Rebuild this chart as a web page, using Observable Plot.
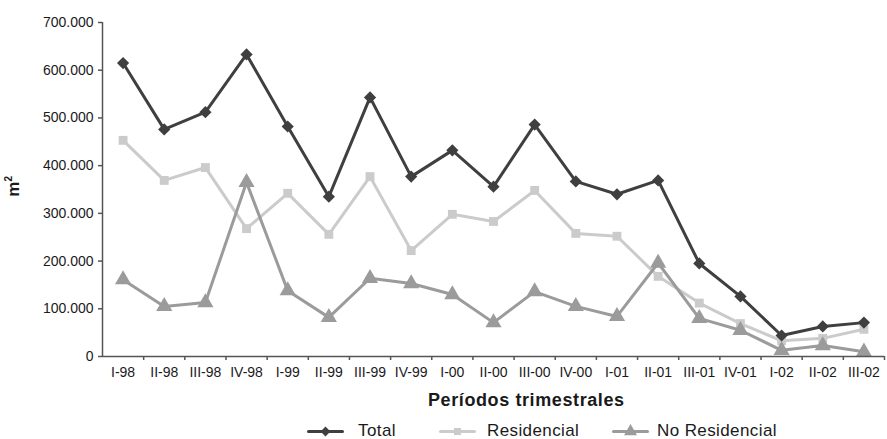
<!DOCTYPE html>
<html><head><meta charset="utf-8">
<script src="https://cdn.jsdelivr.net/npm/d3@7"></script>
<script src="https://cdn.jsdelivr.net/npm/@observablehq/plot@0.6"></script>
<style>
body{margin:0;background:#fff;font-family:"Liberation Sans",Arial,Helvetica,sans-serif;color:#1a1a1a;}
#wrap{position:relative;width:887px;height:439px;overflow:hidden;}
#chart{position:absolute;left:0;top:0;}
#ylab{position:absolute;left:3px;top:176px;transform:rotate(-90deg);transform-origin:center;font-weight:bold;font-size:17px;}
#xtitle{position:absolute;left:428px;top:390px;font-weight:bold;font-size:18px;letter-spacing:0.6px;white-space:nowrap;}
.leg{position:absolute;top:420px;height:22px;display:flex;align-items:center;font-size:17px;letter-spacing:0.4px;white-space:nowrap;}
</style></head>
<body>
<div id="wrap">
<div id="chart"></div>
<div id="ylab">m<sup style="font-size:10px">2</sup></div>
<div id="xtitle">Períodos trimestrales</div>
<div id="legend"></div>
</div>
<script>
const categories = ["I-98","II-98","III-98","IV-98","I-99","II-99","III-99","IV-99","I-00","II-00","III-00","IV-00","I-01","II-01","III-01","IV-01","I-02","II-02","III-02"];
const total = [615000,476000,512000,633000,482000,335000,543000,377000,432000,356000,486000,367000,340000,369000,195000,126000,44000,63000,71000];
const residencial = [453000,369000,396000,268000,342000,256000,377000,222000,298000,283000,348000,258000,252000,168000,112000,69000,33000,38000,57000];
const noResidencial = [161000,105000,113000,365000,138000,82000,164000,153000,130000,71000,136000,105000,84000,196000,80000,55000,13000,23000,10000];
const seriesNames = ["Total","Residencial","No Residencial"];
const yTicks = [0,100000,200000,300000,400000,500000,600000,700000];

const colors = {"Total":"#3f3f3f","Residencial":"#cbcbcb","No Residencial":"#9b9b9b"};
const symbols = {"Total":"diamond2","Residencial":"square","No Residencial":"triangle"};
const radii = {"Total":5.5,"Residencial":5,"No Residencial":6};

const rows = [];
[total, residencial, noResidencial].forEach((arr, s) => {
  arr.forEach((v, i) => rows.push({serie: seriesNames[s], idx: i, value: v}));
});
const fmt = d3.formatLocale({decimal:",", thousands:".", grouping:[3], currency:["",""]}).format(",d");

const drawOrder = ["Residencial","No Residencial","Total"];
const marks = [];
for (const s of drawOrder) {
  const data = rows.filter(r => r.serie === s);
  marks.push(Plot.line(data, {x: d => d.idx + 0.5, y: "value", stroke: colors[s], strokeWidth: 3}));
  marks.push(Plot.dot(data, {x: d => d.idx + 0.5, y: "value", fill: colors[s], stroke: null, symbol: symbols[s], r: radii[s]}));
}

const chart = Plot.plot({
  width: 887,
  height: 386,
  marginLeft: 102,
  marginRight: 3,
  marginTop: 22,
  marginBottom: 30,
  style: {fontFamily: '"Liberation Sans", Arial, sans-serif', fontSize: "14px", color: "#1a1a1a", background: "#fff"},
  x: {type: "linear", domain: [0, categories.length]},
  y: {domain: [0, 700000]},
  marks: [
    ...marks,
    Plot.ruleX([0], {y1: 0, y2: 700000, stroke: "#555", strokeWidth: 1.5}),
    Plot.ruleY([0], {x1: 0, x2: categories.length, stroke: "#555", strokeWidth: 1.5}),
    Plot.axisY({ticks: yTicks, tickFormat: fmt, tickSize: 4, tickPadding: 5, label: null, stroke: "#555", strokeWidth: 1.5, fill: "#1a1a1a", style: "letter-spacing:0.7px"}),
    Plot.axisX({ticks: d3.range(1, categories.length + 1), tickFormat: () => "", tickSize: 4, label: null, stroke: "#555", strokeWidth: 1.5}),
    Plot.axisX({ticks: categories.map((c, i) => i + 0.5), tickFormat: v => categories[Math.round(v - 0.5)], tickSize: 0, tickPadding: 11, label: null, fill: "#1a1a1a", style: "letter-spacing:0.3px"})
  ]
});
document.getElementById("chart").appendChild(chart);

// legend
const legendPos = [{s:"Total", x:308, tx:358},{s:"Residencial", x:440, tx:487},{s:"No Residencial", x:613, tx:657}];
const legend = document.getElementById("legend");
for (const p of legendPos) {
  const item = document.createElement("div");
  item.className = "leg";
  item.style.left = p.x + "px";
  const sw = Plot.plot({
    width: p.tx - p.x, height: 22, margin: 0,
    x: {domain: [0, 1], range: [0, 34], axis: null},
    y: {domain: [0, 1], range: [22, 0], axis: null},
    style: {background: "transparent", overflow: "visible"},
    marks: [
      Plot.line([{x:0,y:0.5},{x:1,y:0.5}], {x:"x", y:"y", stroke: colors[p.s], strokeWidth: 3}),
      Plot.dot([{x:0.5,y:0.5}], {x:"x", y:"y", fill: colors[p.s], symbol: symbols[p.s], r: radii[p.s] * 0.8})
    ]
  });
  item.appendChild(sw);
  const t = document.createElement("span");
  t.textContent = p.s;
  item.appendChild(t);
  legend.appendChild(item);
}
</script>
</body></html>
